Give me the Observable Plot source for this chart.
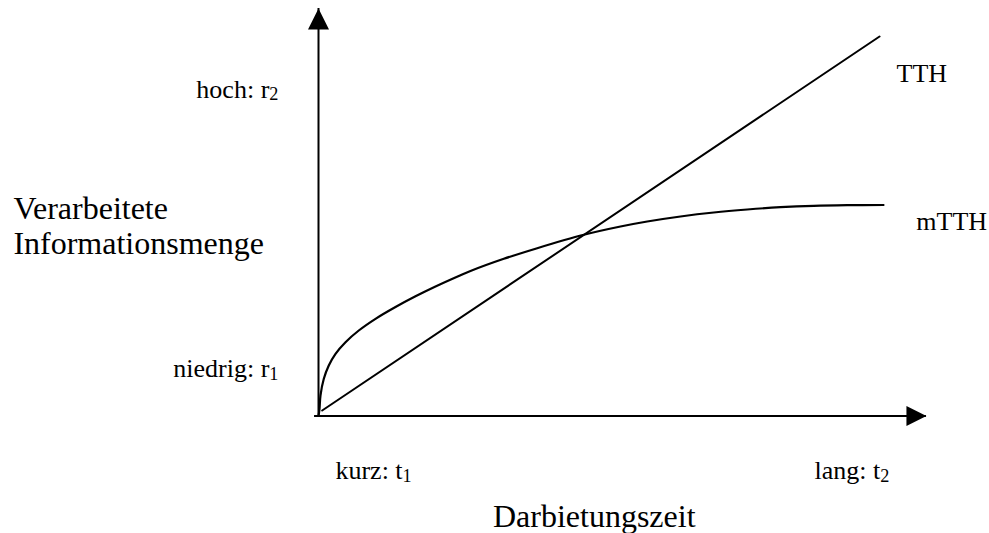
<!DOCTYPE html>
<html>
<head>
<meta charset="utf-8">
<script src="https://cdn.jsdelivr.net/npm/d3@7"></script>
<script src="https://cdn.jsdelivr.net/npm/@observablehq/plot@0.6"></script>
<style>
  html, body { margin: 0; padding: 0; background: #fff; }
  #chart svg { display: block; }
</style>
</head>
<body>
<div id="chart"></div>
<script>
// ---- data (time / information units, 0..100 = t1..t2, r0..r-max) ----
const mtthX = [0, 0.18, 0.35, 0.94, 1.82, 3.01, 4.78, 7.13, 10.09, 13.63, 17.17, 20.71, 24.83, 26.90, 32.80, 38.71, 46.96, 53.45, 58.18, 64.07, 69.96, 75.88, 81.77, 87.66, 93.58, 100];
const mtthY = [0, 1.90, 5.40, 9.80, 13.31, 16.39, 19.45, 22.53, 25.61, 28.72, 31.54, 34.12, 36.89, 38.21, 41.42, 44.22, 47.75, 49.93, 51.25, 52.57, 53.62, 54.41, 55.02, 55.39, 55.55, 55.60];
const tthX = [0.65, 99.3];
const tthY = [1.45, 100];

const seriesNames = ["TTH", "mTTH"];
const seriesLabelX = [102.3, 105.8];
const seriesLabelY = [90.3, 51.1];

const yTickValues = [12.4, 86.1];
const yTickLabels = ["niedrig: r_1", "hoch: r_2"];
const xTickValues = [3.0, 87.8];
const xTickLabels = ["kurz: t_1", "lang: t_2"];

const xAxisExtent = [-0.7, 107.6];
const yAxisExtent = [-0.1, 107.4];

const yTitle = "Verarbeitete\nInformationsmenge";
const xTitle = "Darbietungszeit";

// ---- build tables ----
const mtth = mtthX.map((x, i) => ({x, y: mtthY[i]}));
const tth = tthX.map((x, i) => ({x, y: tthY[i]}));
const seriesLabels = seriesNames.map((name, i) => ({name, x: seriesLabelX[i], y: seriesLabelY[i]}));
const yTicks = yTickValues.map((y, i) => ({y, label: yTickLabels[i]}));
const xTicks = xTickValues.map((x, i) => ({x, label: xTickLabels[i]}));

const serif = "'Liberation Serif', 'Times New Roman', serif";
const triangle = {
  draw(context, l, r) {
    context.moveTo(-r, 0);
    context.lineTo(0, -l);
    context.lineTo(r, 0);
    context.closePath();
  }
};

const chart = Plot.plot({
  width: 989,
  height: 533,
  margin: 0,
  style: {background: "#fff", color: "#000"},
  x: {domain: [0, 100], range: [318, 883], axis: null},
  y: {domain: [0, 100], range: [415.5, 36], axis: null},
  marks: [
    // axes
    Plot.ruleY([0], {x1: xAxisExtent[0], x2: xAxisExtent[1], stroke: "#000", strokeWidth: 2}),
    Plot.ruleX([0], {y1: yAxisExtent[0], y2: yAxisExtent[1], stroke: "#000", strokeWidth: 2}),
    Plot.vector([{x: 0, y: yAxisExtent[1]}], {x: "x", y: "y", anchor: "end", length: 21, r: 10.5, rotate: 0, shape: triangle, fill: "#000", stroke: "none"}),
    Plot.vector([{x: xAxisExtent[1], y: 0}], {x: "x", y: "y", anchor: "end", length: 20, r: 10, rotate: 90, shape: triangle, fill: "#000", stroke: "none"}),
    // curves
    Plot.line(tth, {x: "x", y: "y", stroke: "#000", strokeWidth: 2}),
    Plot.line(mtth, {x: "x", y: "y", curve: "catmull-rom", stroke: "#000", strokeWidth: 2.2}),
    // series labels
    Plot.text(seriesLabels, {x: "x", y: "y", text: "name", textAnchor: "start", fontSize: 26, fontFamily: serif, fill: "#000"}),
    // tick labels
    Plot.text(yTicks, {x: -7.1, y: "y", text: "label", textAnchor: "end", fontSize: 26, fontFamily: serif, fill: "#000"}),
    Plot.text(xTicks, {x: "x", y: -14.3, text: "label", textAnchor: "start", fontSize: 26, fontFamily: serif, fill: "#000"}),
    // axis titles
    Plot.text([yTitle], {x: -54.0, y: 50.2, text: d => d, textAnchor: "start", lineHeight: 1.1, fontSize: 32, fontFamily: serif, fill: "#000"}),
    Plot.text([xTitle], {x: 48.8, y: -26.5, text: d => d, textAnchor: "middle", fontSize: 32, fontFamily: serif, fill: "#000"})
  ]
});

// subscripts: "r_2" -> r with subscript 2
d3.select(chart).selectAll("text").each(function () {
  const el = d3.select(this);
  if (el.selectAll("tspan").size() > 0) return;
  const t = el.text();
  if (!t.includes("_")) return;
  const [main, sub] = t.split("_");
  el.text(null);
  el.append("tspan").text(main);
  el.append("tspan").attr("font-size", "0.7em").attr("dy", "0.16em").text(sub);
});

document.getElementById("chart").appendChild(chart);
</script>
</body>
</html>
